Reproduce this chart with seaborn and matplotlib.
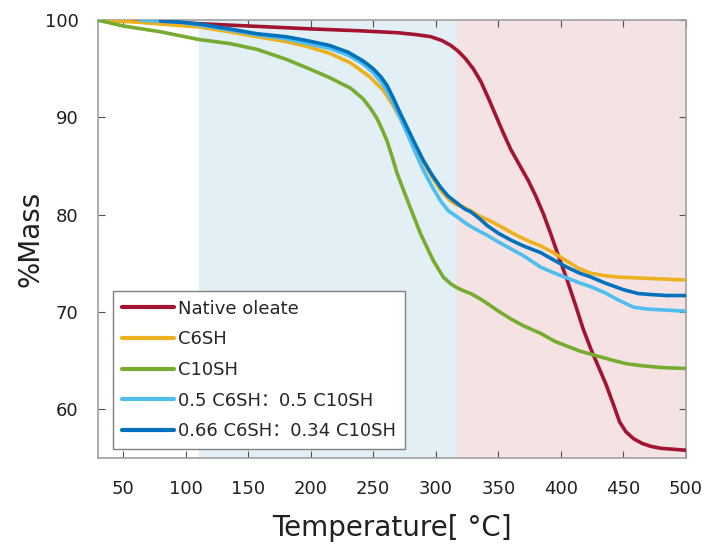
import numpy as np
import pandas as pd
import matplotlib
matplotlib.use("Agg")
import matplotlib.pyplot as plt
import seaborn as sns

# Thermogravimetric curves (temperature in °C, remaining mass in %)
oleate_t = [30, 60, 100, 150, 200, 240, 270, 285, 296, 305, 312, 318, 324, 330, 336, 342, 348, 354,
            360, 367, 374, 380, 386, 392, 398, 405, 412, 418, 424, 430, 436, 442, 447, 452, 458,
            465, 472, 480, 490, 500]
oleate_m = [100, 99.9, 99.7, 99.4, 99.1, 98.9, 98.7, 98.5, 98.3, 97.9, 97.4, 96.8, 96.0, 95.0, 93.7,
            92.0, 90.2, 88.4, 86.7, 85.1, 83.5, 81.9, 80.1, 78.0, 75.8, 73.3, 70.6, 68.2, 66.2,
            64.4, 62.6, 60.5, 58.7, 57.7, 57.0, 56.5, 56.2, 56.0, 55.9, 55.8]

c6_t = [30, 60, 90, 111, 135, 157, 180, 197, 215, 232, 247, 258, 266, 272, 277, 283, 290, 297, 304,
        311, 317, 322, 328, 336, 346, 356, 366, 376, 384, 394, 404, 414, 424, 432, 445, 463, 480, 500]
c6_m = [100, 99.8, 99.5, 99.3, 98.8, 98.3, 97.8, 97.3, 96.6, 95.6, 94.2, 92.8, 91.2, 89.8, 88.5,
        87.0, 85.4, 83.9, 82.5, 81.5, 81.0, 80.8, 80.4, 79.8, 79.2, 78.5, 77.8, 77.2, 76.8, 76.1,
        75.3, 74.5, 74.0, 73.8, 73.6, 73.5, 73.4, 73.3]

c10_t = [30, 50, 80, 111, 135, 157, 180, 197, 215, 232, 242, 248, 253, 257, 261, 265, 269, 274, 280,
         288, 298, 306, 312, 317, 322, 328, 335, 341, 350, 360, 370, 384, 395, 405, 415, 426, 440,
         452, 464, 480, 500]
c10_m = [100, 99.4, 98.8, 98.0, 97.6, 97.0, 96.0, 95.1, 94.1, 93.0, 91.9, 90.9, 89.9, 88.8, 87.6,
         86.0, 84.3, 82.6, 80.6, 78.0, 75.3, 73.6, 72.9, 72.5, 72.2, 71.9, 71.4, 70.9, 70.1, 69.3,
         68.6, 67.8, 67.0, 66.5, 66.0, 65.6, 65.1, 64.7, 64.5, 64.3, 64.2]

mix50_t = [64, 80, 95, 111, 135, 157, 180, 197, 215, 230, 242, 250, 256, 261, 266, 271, 277, 283,
           290, 297, 304, 310, 317, 322, 328, 335, 341, 350, 360, 370, 384, 395, 405, 415, 424, 435,
           445, 458, 470, 485, 500]
mix50_m = [100, 99.9, 99.8, 99.5, 99.0, 98.5, 98.1, 97.6, 97.1, 96.4, 95.5, 94.6, 93.7, 92.7, 91.5,
           90.1, 88.4, 86.6, 84.6, 82.9, 81.4, 80.4, 79.8, 79.3, 78.8, 78.3, 77.9, 77.2, 76.5, 75.8,
           74.6, 74.0, 73.5, 73.0, 72.6, 72.0, 71.3, 70.5, 70.3, 70.2, 70.1]

mix66_t = [80, 95, 111, 135, 157, 180, 197, 215, 230, 242, 250, 256, 261, 266, 271, 277, 283, 290,
           297, 304, 310, 317, 323, 328, 335, 341, 350, 360, 370, 384, 395, 405, 415, 424, 435, 450,
           462, 472, 485, 500]
mix66_m = [99.9, 99.8, 99.6, 99.1, 98.6, 98.3, 97.9, 97.4, 96.7, 95.8, 95.0, 94.2, 93.3, 92.0, 90.6,
           89.0, 87.4, 85.6, 84.1, 82.8, 81.9, 81.2, 80.6, 80.3, 79.6, 78.9, 78.1, 77.4, 76.8, 76.1,
           75.3, 74.6, 74.0, 73.6, 73.0, 72.3, 71.9, 71.8, 71.7, 71.7]

labels = ["Native oleate", "C6SH", "C10SH",
          "0.5 C6SH：0.5 C10SH", "0.66 C6SH：0.34 C10SH"]
colors = ["#a2142f", "#edb120", "#77ac30", "#4dbeee", "#0072bd"]

# Temperature windows of the two decomposition regimes
region_edges = [111, 316, 500]
region_colors = ["#e2eff5", "#f5e3e4"]

x_ticks = [50, 100, 150, 200, 250, 300, 350, 400, 450, 500]
y_ticks = [60, 70, 80, 90, 100]

series = [(oleate_t, oleate_m), (c6_t, c6_m), (c10_t, c10_m), (mix50_t, mix50_m), (mix66_t, mix66_m)]
frames = []
for name, (t, m) in zip(labels, series):
    frames.append(pd.DataFrame({"Temperature": t, "Mass": m, "Sample": name}))
df = pd.concat(frames, ignore_index=True)

sns.set_theme(style="white")
plt.rcParams["font.family"] = ["DejaVu Sans", "Noto Sans CJK SC"]

fig = plt.figure(figsize=(7.05, 5.44), dpi=100)
ax = fig.add_axes([0.139, 0.158, 0.834, 0.805])

for (lo, hi), c in zip(zip(region_edges[:-1], region_edges[1:]), region_colors):
    ax.axvspan(lo, hi, color=c, lw=0, zorder=0)

sns.lineplot(data=df, x="Temperature", y="Mass", hue="Sample", hue_order=labels,
             palette=colors, estimator=None, sort=True, linewidth=2.6, ax=ax, zorder=3)
for line in ax.get_lines():
    line.set_solid_joinstyle("round")
    line.set_solid_capstyle("round")

ax.set_xlim(30, 500)
ax.set_ylim(55, 100)
ax.set_xticks(x_ticks)
ax.set_yticks(y_ticks)
ax.tick_params(direction="in", length=5, width=0.8, color="#505050",
               bottom=True, left=True, top=True, right=True,
               labelsize=13, colors="#202020")
ax.tick_params(axis="y", pad=14)
ax.tick_params(axis="x", pad=16)
for side in ["left", "bottom", "top", "right"]:
    ax.spines[side].set_visible(True)
    ax.spines[side].set_color("#a0a0a0")
    ax.spines[side].set_linewidth(1.2)

ax.set_xlabel("Temperature[ °C]", fontsize=20, color="#202020", labelpad=11)
ax.set_ylabel("%Mass", fontsize=20, color="#202020", labelpad=0)

leg = ax.legend(loc="lower left", bbox_to_anchor=(0.025, 0.02), fontsize=13,
                handlelength=2.9, handletextpad=0.2, labelspacing=0.7,
                borderpad=0.5, frameon=True, fancybox=False, borderaxespad=0.0)
leg.get_frame().set_edgecolor("#808080")
leg.get_frame().set_linewidth(1.0)
leg.get_frame().set_facecolor("white")
leg.get_frame().set_alpha(1.0)
for line in leg.get_lines():
    line.set_linewidth(3)

fig.savefig("out.png", dpi=100)
